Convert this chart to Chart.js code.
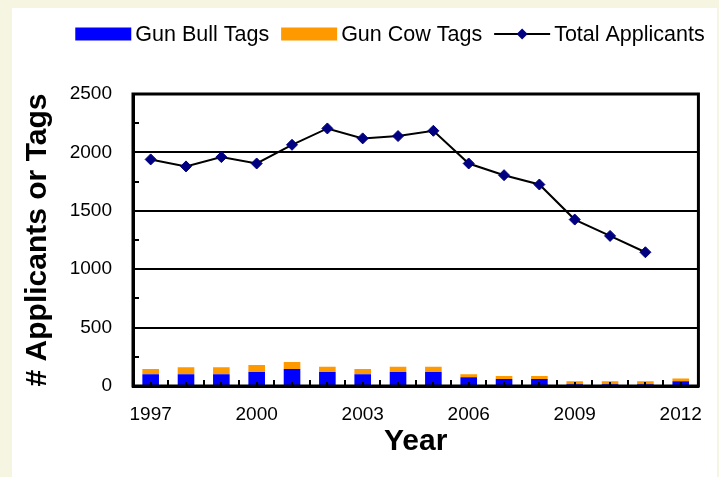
<!DOCTYPE html>
<html>
<head>
<meta charset="utf-8">
<script src="https://cdn.jsdelivr.net/npm/chart.js@4/dist/chart.umd.min.js"></script>
<style>
  html, body { margin: 0; padding: 0; background: #f6f5e2; }
  canvas { display: block; }
</style>
</head>
<body>
<canvas id="chart" width="719" height="477"></canvas>
<script>
// Elk hunt data, 1997-2012
const years = ['1997','1998','1999','2000','2001','2002','2003','2004','2005','2006','2007','2008','2009','2010','2011','2012'];
const gunBullTags = [100, 100, 100, 120, 145, 120, 100, 120, 120, 75, 60, 60, 15, 15, 15, 40];
const gunCowTags  = [45, 60, 60, 60, 60, 45, 45, 45, 45, 25, 25, 25, 25, 25, 25, 25];
const totalApplicants = [1940, 1880, 1960, 1905, 2065, 2205, 2120, 2140, 2185, 1905, 1805, 1725, 1425, 1285, 1145, null];
const yTickValues = [0, 500, 1000, 1500, 2000, 2500];
const shownYearLabels = ['1997', '2000', '2003', '2006', '2009', '2012'];

const FONT = '"Liberation Sans", Arial, sans-serif';
const BLUE = '#0000ff', ORANGE = '#ff9900', NAVY = '#000080';

// White panel behind the chart
const panelPlugin = {
  id: 'panel',
  beforeDraw(chart) {
    const ctx = chart.ctx;
    ctx.save();
    ctx.fillStyle = '#ffffff';
    ctx.fillRect(12, 8, chart.width - 14, chart.height - 8);
    ctx.restore();
  }
};

// Box frame around the plot plus inward tick marks
const framePlugin = {
  id: 'frame',
  afterDatasetsDraw(chart) {
    const { ctx, chartArea: a, scales: { x, y } } = chart;
    ctx.save();
    ctx.strokeStyle = '#000';
    ctx.lineWidth = 2;
    // minor ticks on the value axis
    for (let v = 250; v < 2500; v += 500) {
      const py = Math.round(y.getPixelForValue(v));
      ctx.beginPath();
      ctx.moveTo(a.left, py);
      ctx.lineTo(a.left + 6, py);
      ctx.stroke();
    }
    // ticks on the category axis: boundaries and centres
    const half = (x.getPixelForValue(1) - x.getPixelForValue(0)) / 2;
    years.forEach((_, i) => {
      const cx = x.getPixelForValue(i);
      ctx.beginPath();
      ctx.moveTo(Math.round(cx - half), a.bottom);
      ctx.lineTo(Math.round(cx - half), a.bottom - 6);
      ctx.moveTo(Math.round(cx), a.bottom);
      ctx.lineTo(Math.round(cx), a.bottom - 4);
      ctx.stroke();
    });
    ctx.lineWidth = 3;
    ctx.strokeRect(a.left, a.top, a.right - a.left, a.bottom - a.top);
    ctx.restore();
  }
};

// Legend row across the top
const legendPlugin = {
  id: 'topLegend',
  afterDraw(chart) {
    const ctx = chart.ctx;
    const ds = chart.data.datasets;
    ctx.save();
    ctx.font = '21.5px ' + FONT;
    ctx.textBaseline = 'middle';
    ctx.textAlign = 'left';
    const boxW = 56, boxH = 13, gapText = 4, gapItem = 12;
    const cy = 34;
    const widths = ds.map(d => boxW + gapText + ctx.measureText(d.label).width);
    const total = widths.reduce((s, w) => s + w, 0) + gapItem * (ds.length - 1);
    let px = 390 - total / 2;
    ds.forEach((d, i) => {
      if (d.type === 'line') {
        ctx.strokeStyle = '#000';
        ctx.lineWidth = 2;
        ctx.beginPath();
        ctx.moveTo(px, cy);
        ctx.lineTo(px + boxW, cy);
        ctx.stroke();
        const mx = px + boxW / 2, r = 5.5;
        ctx.fillStyle = NAVY;
        ctx.beginPath();
        ctx.moveTo(mx - r, cy);
        ctx.lineTo(mx, cy - r);
        ctx.lineTo(mx + r, cy);
        ctx.lineTo(mx, cy + r);
        ctx.closePath();
        ctx.fill();
      } else {
        ctx.fillStyle = d.backgroundColor;
        ctx.fillRect(px, cy - boxH / 2, boxW, boxH);
      }
      ctx.fillStyle = '#000';
      ctx.fillText(d.label, px + boxW + gapText, cy + 1);
      px += widths[i] + gapItem;
    });
    ctx.restore();
  }
};

new Chart(document.getElementById('chart'), {
  data: {
    labels: years,
    datasets: [
      {
        type: 'bar',
        label: 'Gun Bull Tags',
        data: gunBullTags,
        backgroundColor: BLUE,
        stack: 'tags',
        barPercentage: 0.47,
        categoryPercentage: 1
      },
      {
        type: 'bar',
        label: 'Gun Cow Tags',
        data: gunCowTags,
        backgroundColor: ORANGE,
        stack: 'tags',
        barPercentage: 0.47,
        categoryPercentage: 1
      },
      {
        type: 'line',
        label: 'Total Applicants',
        data: totalApplicants,
        stack: 'applicants',
        borderColor: '#000',
        borderWidth: 2,
        pointStyle: 'rectRot',
        pointRadius: 5.5,
        pointBackgroundColor: NAVY,
        pointBorderColor: NAVY,
        pointBorderWidth: 1,
        tension: 0,
        order: -1
      }
    ]
  },
  options: {
    responsive: false,
    animation: false,
    events: [],
    layout: { autoPadding: false, padding: { top: 94, right: 4, left: 0, bottom: 0 } },
    plugins: { legend: { display: false }, tooltip: { enabled: false } },
    scales: {
      x: {
        stacked: true,
        offset: true,
        grid: { display: false, drawTicks: false },
        border: { display: true, color: '#000', width: 3 },
        ticks: {
          autoSkip: false,
          maxRotation: 0,
          padding: 17,
          color: '#000',
          font: { family: FONT, size: 19 },
          callback(value) {
            const lbl = this.getLabelForValue(value);
            return shownYearLabels.includes(lbl) ? lbl : '';
          }
        },
        title: {
          display: true,
          text: 'Year',
          color: '#000',
          font: { family: FONT, size: 30, weight: 'bold' },
          padding: { top: 0, bottom: 17 }
        },
        afterFit(scale) { scale.height = 91; }
      },
      y: {
        stacked: true,
        min: 0,
        max: 2500,
        afterBuildTicks(scale) { scale.ticks = yTickValues.map(v => ({ value: v })); },
        grid: { color: '#000', lineWidth: 2, drawTicks: false },
        border: { display: true, color: '#000', width: 3 },
        ticks: {
          padding: 21,
          color: '#000',
          font: { family: FONT, size: 19 },
          callback: value => String(value)
        },
        title: {
          display: true,
          text: '# Applicants or Tags',
          color: '#000',
          font: { family: FONT, size: 30, weight: 'bold' },
          padding: { top: 20, bottom: 0 }
        },
        afterFit(scale) { scale.width = 133; }
      }
    }
  },
  plugins: [panelPlugin, framePlugin, legendPlugin]
});
</script>
</body>
</html>
